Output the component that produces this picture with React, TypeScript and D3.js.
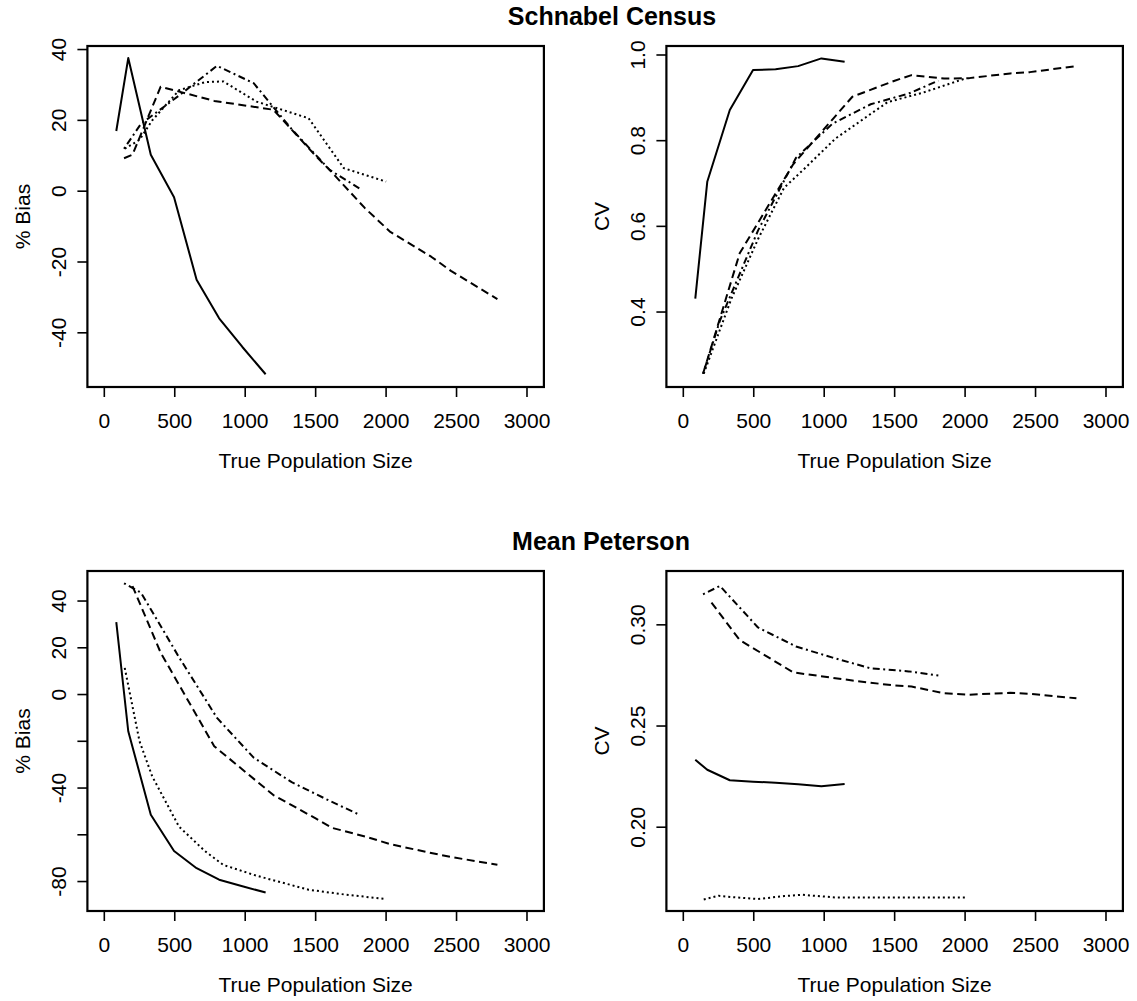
import React from "react";
import * as d3 from "d3";

// ---- data ----
const solidX = [85, 170, 330, 495, 655, 815, 980, 1145];
const dottedX = [145, 250, 340, 530, 715, 845, 1080, 1450, 1700, 2000];
const dotdashX = [140, 260, 530, 800, 1060, 1330, 1600, 1810];
const dashedX = [140, 200, 400, 780, 1200, 1500, 1620, 1850, 2030, 2320, 2460, 2790];

// Schnabel Census, % Bias
const schBiasSolid = [17, 37.6, 10.3, -1.7, -25, -35.9, -44, -51.7];
const schBiasDotted = [12, 14.5, 20, 28.5, 30.8, 31, 25.3, 20.6, 6.5, 2.7];
const schBiasDotdash = [12, 19, 27, 35.4, 30.5, 17.5, 6, 0.8];
const schBiasDashed = [9.3, 10.3, 29.5, 25.5, 23, 10, 5.1, -4.8, -11.5, -18.5, -22.5, -30.5];

// Schnabel Census, CV
const schCvSolid = [0.4315, 0.704, 0.8715, 0.965, 0.9665, 0.974, 0.992, 0.984];
const schCvDotted = [0.256, 0.35, 0.43, 0.57, 0.69, 0.73, 0.805, 0.89, 0.912, 0.945];
const schCvDotdash = [0.256, 0.38, 0.59, 0.76, 0.84, 0.885, 0.91, 0.94];
const schCvDashed = [0.256, 0.32, 0.537, 0.745, 0.9026, 0.94, 0.953, 0.945, 0.946, 0.957, 0.96, 0.974];

// Mean Peterson, % Bias
const petBiasSolid = [31, -15.7, -51.4, -66.9, -74.3, -79.2, -82, -84.7];
const petBiasDotted = [11.4, -20, -35, -56.5, -67, -72.9, -77.5, -83.5, -85.5, -87.5];
const petBiasDotdash = [47.6, 43.6, 16, -10, -27, -37.5, -45.5, -51.4];
const petBiasDashed = [null, 46.4, 17.9, -22.1, -43, -53, -57.1, -60.7, -64, -67.8, -69.5, -72.8];

// Mean Peterson, CV
const petCvSolid = [0.2333, 0.2284, 0.2232, 0.2225, 0.222, 0.2212, 0.2203, 0.2213];
const petCvDotted = [0.1643, 0.1661, 0.1655, 0.1645, 0.166, 0.1666, 0.1653, 0.1653, 0.1653, 0.1653];
const petCvDotdash = [0.3151, 0.3192, 0.2987, 0.2893, 0.2838, 0.2785, 0.277, 0.275];
const petCvDashed = [null, 0.311, 0.2925, 0.2765, 0.2725, 0.27, 0.2695, 0.2662, 0.2655, 0.2664, 0.2659, 0.2637];

const xTicks = [0, 500, 1000, 1500, 2000, 2500, 3000];

const FONT = "'Liberation Sans', Arial, Helvetica, sans-serif";

const STYLES = {
  solid: "none",
  dashed: "8,4.5",
  dotted: "2,3",
  dotdash: "2,3.5,7,3.5",
};

type Series = { xs: number[]; ys: (number | null)[]; style: keyof typeof STYLES };

type PanelProps = {
  left: number;
  top: number;
  width: number;
  height: number;
  yDomain: [number, number];
  yTicks: number[];
  yLabels: { v: number; t: string }[];
  yTitle: string;
  series: Series[];
};

function Panel({ left, top, width, height, yDomain, yTicks, yLabels, yTitle, series }: PanelProps) {
  const x = d3.scaleLinear().domain([-120, 3120]).range([left, left + width]);
  const y = d3.scaleLinear().domain(yDomain).range([top + height, top]);
  const bottom = top + height;
  return (
    <g>
      {series.map((s, i) => {
        const pts = s.xs.map((xv, j) => [xv, s.ys[j]] as [number, number | null]);
        const line = d3
          .line<[number, number | null]>()
          .defined((d) => d[1] !== null && d[1] !== undefined)
          .x((d) => x(d[0]))
          .y((d) => y(d[1] as number));
        return (
          <path
            key={i}
            d={line(pts) || ""}
            fill="none"
            stroke="#000"
            strokeWidth={2}
            strokeDasharray={STYLES[s.style]}
            strokeLinejoin="round"
          />
        );
      })}
      <rect x={left} y={top} width={width} height={height} fill="none" stroke="#000" strokeWidth={2.2} />
      {xTicks.map((t) => (
        <g key={"x" + t}>
          <line x1={x(t)} x2={x(t)} y1={bottom} y2={bottom + 10} stroke="#000" strokeWidth={1.6} />
          <text x={x(t)} y={bottom + 41} textAnchor="middle" fontFamily={FONT} fontSize={21}>
            {t}
          </text>
        </g>
      ))}
      {yTicks.map((t) => (
        <line key={"y" + t} x1={left - 10} x2={left} y1={y(t)} y2={y(t)} stroke="#000" strokeWidth={1.6} />
      ))}
      {yLabels.map((l) => (
        <text
          key={"yl" + l.v}
          transform={`translate(${left - 21},${y(l.v)}) rotate(-90)`}
          textAnchor="middle"
          fontFamily={FONT}
          fontSize={21}
        >
          {l.t}
        </text>
      ))}
      <text x={left + width / 2} y={bottom + 81} textAnchor="middle" fontFamily={FONT} fontSize={21}>
        True Population Size
      </text>
      <text
        transform={`translate(${left - 57},${top + height / 2}) rotate(-90)`}
        textAnchor="middle"
        fontFamily={FONT}
        fontSize={21}
      >
        {yTitle}
      </text>
    </g>
  );
}

export default function App() {
  const W = 456.5;
  const H1 = 341;
  const H2 = 340;
  return (
    <div>
      <style>{`body{margin:0;background:#fff}`}</style>
      <svg width={1137} height={1001} style={{ display: "block", background: "#fff" }}>
        <text x={612} y={25} textAnchor="middle" fontFamily={FONT} fontWeight="bold" fontSize={25}>
          Schnabel Census
        </text>
        <text x={601} y={550} textAnchor="middle" fontFamily={FONT} fontWeight="bold" fontSize={25}>
          Mean Peterson
        </text>
        <Panel
          left={87.4}
          top={46}
          width={W}
          height={H1}
          yDomain={[-55.3, 41.0]}
          yTicks={[-40, -20, 0, 20, 40]}
          yLabels={[-40, -20, 0, 20, 40].map((v) => ({ v, t: String(v) }))}
          yTitle="% Bias"
          series={[
            { xs: solidX, ys: schBiasSolid, style: "solid" },
            { xs: dottedX, ys: schBiasDotted, style: "dotted" },
            { xs: dotdashX, ys: schBiasDotdash, style: "dotdash" },
            { xs: dashedX, ys: schBiasDashed, style: "dashed" },
          ]}
        />
        <Panel
          left={666.4}
          top={46}
          width={W}
          height={H1}
          yDomain={[0.225, 1.021]}
          yTicks={[0.4, 0.6, 0.8, 1.0]}
          yLabels={[0.4, 0.6, 0.8, 1.0].map((v) => ({ v, t: v.toFixed(1) }))}
          yTitle="CV"
          series={[
            { xs: solidX, ys: schCvSolid, style: "solid" },
            { xs: dottedX, ys: schCvDotted, style: "dotted" },
            { xs: dotdashX, ys: schCvDotdash, style: "dotdash" },
            { xs: dashedX, ys: schCvDashed, style: "dashed" },
          ]}
        />
        <Panel
          left={87.4}
          top={571}
          width={W}
          height={H2}
          yDomain={[-92.6, 52.85]}
          yTicks={[-80, -60, -40, -20, 0, 20, 40]}
          yLabels={[-80, -40, 0, 20, 40].map((v) => ({ v, t: String(v) }))}
          yTitle="% Bias"
          series={[
            { xs: solidX, ys: petBiasSolid, style: "solid" },
            { xs: dottedX, ys: petBiasDotted, style: "dotted" },
            { xs: dotdashX, ys: petBiasDotdash, style: "dotdash" },
            { xs: dashedX, ys: petBiasDashed, style: "dashed" },
          ]}
        />
        <Panel
          left={666.4}
          top={571}
          width={W}
          height={H2}
          yDomain={[0.1586, 0.3266]}
          yTicks={[0.2, 0.25, 0.3]}
          yLabels={[0.2, 0.25, 0.3].map((v) => ({ v, t: v.toFixed(2) }))}
          yTitle="CV"
          series={[
            { xs: solidX, ys: petCvSolid, style: "solid" },
            { xs: dottedX, ys: petCvDotted, style: "dotted" },
            { xs: dotdashX, ys: petCvDotdash, style: "dotdash" },
            { xs: dashedX, ys: petCvDashed, style: "dashed" },
          ]}
        />
      </svg>
    </div>
  );
}
